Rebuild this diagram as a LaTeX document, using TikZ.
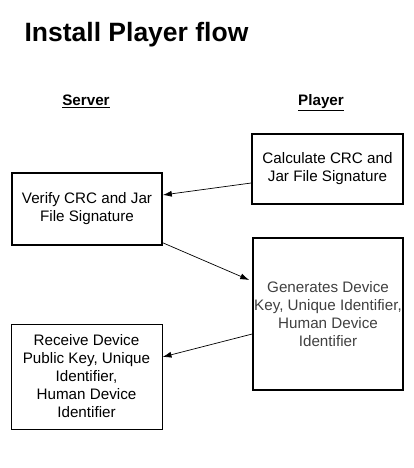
\documentclass[tikz,border=0pt]{standalone}
\usepackage{fontspec}
\setmainfont{Liberation Sans}
\usetikzlibrary{arrows.meta}
\begin{document}
\begin{tikzpicture}[x=1pt,y=-1pt,
  box/.style={draw, line width=1.6pt, rectangle, align=center, inner sep=0pt, font=\fontsize{15.2}{18}\selectfont},
  thinbox/.style={box, line width=1pt},
  head/.style={font=\bfseries\fontsize{15.2}{17}\selectfont},
  arr/.style={-{Latex[length=9pt,width=6pt]}, line width=0.7pt}]
\useasboundingbox (0,0) rectangle (414,468);
\node[anchor=base west, font=\bfseries\fontsize{26.5}{30}\selectfont] (title) at (21,42) {Install Player flow};
\node[head, anchor=base] (server) at (86,106) {\underline{Server}};
\node[head, anchor=base] (player) at (321,106) {\underline{Player}};
\node[box, minimum width=151pt, minimum height=70pt] (calc) at (327.5,169) {Calculate CRC and\\Jar File Signature};
\node[box, minimum width=150pt, minimum height=72pt] (verify) at (87,209) {Verify CRC and Jar\\File Signature};
\node[box, minimum width=150pt, minimum height=152pt, text=black!75] (gen) at (328,314) {Generates Device\\Key, Unique Identifier,\\Human Device\\Identifier};
\node[thinbox, minimum width=151pt, minimum height=105pt] (recv) at (86.5,376.5) {Receive Device\\Public Key, Unique\\Identifier,\\Human Device\\Identifier};
\draw[arr] ([yshift=-14pt]calc.west) -- ([yshift=14pt]verify.east);
\draw[arr] ([yshift=3pt]verify.south east) -- ([xshift=-3pt,yshift=34pt]gen.west);
\draw[arr] ([yshift=-20pt]gen.west) -- ([yshift=19.5pt]recv.east);
\end{tikzpicture}
\end{document}
